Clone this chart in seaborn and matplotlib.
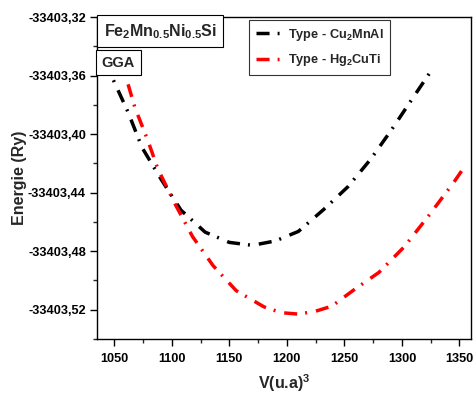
import matplotlib
matplotlib.use("Agg")
import matplotlib.pyplot as plt
import seaborn as sns
import pandas as pd
from matplotlib.ticker import FuncFormatter, MultipleLocator

# ---- data ----
v_cu2mnal = [1042, 1048, 1062, 1074, 1090, 1108, 1129, 1150, 1170, 1190,
             1210, 1232, 1253, 1273, 1291, 1308, 1326]
e_cu2mnal = [-33403.350, -33403.361, -33403.385, -33403.409, -33403.430,
             -33403.452, -33403.467, -33403.474, -33403.476, -33403.473,
             -33403.4665, -33403.4515, -33403.436, -33403.417, -33403.397,
             -33403.377, -33403.356]

v_hg2cuti = [1062, 1068, 1079, 1088, 1103, 1118, 1136, 1156, 1180, 1195,
             1210, 1225, 1239, 1259, 1280, 1302, 1323, 1345, 1352]
e_hg2cuti = [-33403.366, -33403.382, -33403.404, -33403.424, -33403.448,
             -33403.470, -33403.490, -33403.507, -33403.518, -33403.522,
             -33403.523, -33403.521, -33403.5176, -33403.506, -33403.4945,
             -33403.477, -33403.456, -33403.433, -33403.425]

series_labels = [r"Type - Cu$_2$MnAl", r"Type - Hg$_2$CuTi"]
series_colors = ["black", "red"]

y_ticks = [-33403.52, -33403.48, -33403.44, -33403.40, -33403.36, -33403.32]
x_ticks = [1050, 1100, 1150, 1200, 1250, 1300, 1350]

title_text = r"Fe$_2$Mn$_{0.5}$Ni$_{0.5}$Si"
method_text = "GGA"
x_label = r"V(u.a)$^3$"
y_label = "Energie (Ry)"

# ---- style ----
sns.set_theme(style="ticks")
plt.rcParams["font.family"] = ["Liberation Sans", "DejaVu Sans"]
plt.rcParams["font.weight"] = "bold"
plt.rcParams["mathtext.fontset"] = "custom"
plt.rcParams["mathtext.rm"] = "Liberation Sans:bold"
plt.rcParams["mathtext.it"] = "Liberation Sans:bold"
plt.rcParams["mathtext.bf"] = "Liberation Sans:bold"
plt.rcParams["mathtext.default"] = "rm"
plt.rcParams["lines.scale_dashes"] = False

df = pd.concat([
    pd.DataFrame({"V": v_cu2mnal, "E": e_cu2mnal, "Type": series_labels[0]}),
    pd.DataFrame({"V": v_hg2cuti, "E": e_hg2cuti, "Type": series_labels[1]}),
], ignore_index=True)

fig = plt.figure(figsize=(4.73, 3.99), dpi=100)
ax = fig.add_axes([97 / 473, 1 - 339 / 399, (471 - 97) / 473, (339 - 17) / 399])

dash = (9.4, 5.8, 1.4, 6.5)
sns.lineplot(data=df, x="V", y="E", hue="Type", style="Type",
             palette=series_colors, dashes=[dash, dash], linewidth=2.5,
             sort=False, estimator=None, legend=False, ax=ax)

ax.set_xlim(1035, 1360)
ax.set_ylim(-33403.54, -33403.32)
ax.set_xticks(x_ticks)
ax.set_yticks(y_ticks)
ax.xaxis.set_minor_locator(MultipleLocator(25))
ax.yaxis.set_minor_locator(MultipleLocator(0.02))
ax.yaxis.set_major_formatter(FuncFormatter(lambda v, p: f"{v:.2f}".replace(".", ",")))
ax.tick_params(axis="both", which="major", direction="out", length=5, width=1,
               labelsize=9.2, pad=3, colors="black")
ax.tick_params(axis="both", which="minor", direction="out", length=3, width=1)
ax.tick_params(axis="x", pad=5)
for lbl in ax.get_xticklabels() + ax.get_yticklabels():
    lbl.set_fontweight("bold")
for s in ax.spines.values():
    s.set_visible(True)
    s.set_linewidth(1.0)
    s.set_color("black")

ax.set_xlabel(x_label, fontsize=11.5, fontweight="bold", labelpad=5)
ax.set_ylabel(y_label, fontsize=11.5, fontweight="bold", labelpad=1)

ax.text(0.018, 0.985, title_text, transform=ax.transAxes, fontsize=11.5,
        fontweight="bold", va="top", ha="left",
        bbox=dict(boxstyle="square,pad=0.4", fc="white", ec="black", lw=0.8))
ax.text(0.012, 0.88, method_text, transform=ax.transAxes, fontsize=10.5,
        fontweight="bold", va="top", ha="left",
        bbox=dict(boxstyle="square,pad=0.4", fc="white", ec="black", lw=0.8))

leg = ax.legend(ax.lines[:2], series_labels, loc="upper left",
                bbox_to_anchor=(0.39, 1.01), fontsize=9.2, frameon=True,
                fancybox=False, edgecolor="black", handlelength=2.0,
                handletextpad=0.5, borderpad=0.5, labelspacing=0.75)
leg.get_frame().set_linewidth(0.8)
for t in leg.get_texts():
    t.set_fontweight("bold")

fig.savefig("out.png", dpi=100)
